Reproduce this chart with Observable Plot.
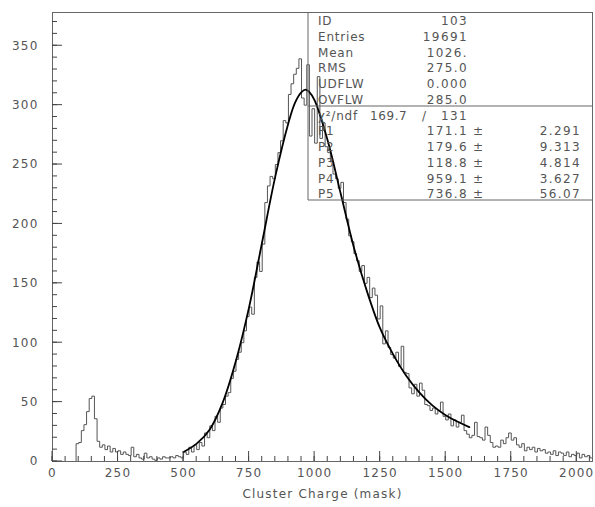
<!DOCTYPE html>
<html><head><meta charset="utf-8">
<script src="https://cdn.jsdelivr.net/npm/d3@7"></script>
<script src="https://cdn.jsdelivr.net/npm/@observablehq/plot@0.6"></script>
<style>
body{margin:0;background:#fff}
#chart svg text{font-family:"DejaVu Sans",sans-serif}
</style>
</head><body><div id="chart"></div>
<script>
// Histogram: bin width 10, bins starting at 0, 10, ... 2050
const binWidth = 10;
const counts = [
0,0,0,0,0,0,0,0,0,15,
16,26,31,42,53,55,36,17,12,14,
10,13,8,11,8,9,6,8,6,5,
12,4,6,3,2,7,3,4,2,1,
3,2,4,3,3,4,3,5,4,3,
8,6,12,8,14,10,16,13,24,20,
30,26,38,33,45,48,55,58,70,76,
86,92,100,110,122,130,124,155,168,160,
183,218,232,240,238,250,260,270,287,285,
309,318,326,331,339,306,300,334,274,297,
268,324,272,285,265,260,253,242,238,230,
235,218,204,190,185,175,169,160,165,150,
155,138,146,140,120,131,99,110,96,90,
87,92,80,97,75,74,62,57,65,55,
66,60,48,47,43,45,40,43,50,38,
35,40,30,35,29,33,39,26,23,20,
22,33,21,20,18,29,22,16,12,13,
12,18,15,20,24,18,20,14,12,15,
9,12,10,12,8,11,9,10,7,8,
6,9,5,8,7,5,8,4,6,5,
7,3,6,4,5,3
];
// Fit curve
const fitX = [500,550,600,650,700,750,800,850,900,925,950,965,980,1000,1050,1100,1150,1200,1250,1300,1350,1400,1450,1500,1550,1590];
const fitY = [8,15,27,50,85,130,185,240,285,302,311,313,311,304,270,225,180,143,112,90,72,58,47,39,33,29];

const xTicks = [0,250,500,750,1000,1250,1500,1750,2000];
const xMinorTicks = d3.range(0, 2060, 50);
const yTicks = [0,50,100,150,200,250,300,350];
const yMinorTicks = d3.range(0, 371, 10);
const xLabel = "Cluster Charge (mask)";

const statLabels = ["ID","Entries","Mean","RMS","UDFLW","OVFLW"];
const statValues = ["103","19691","1026.","275.0","0.000","285.0"];
const chiLabel = "χ²/ndf";
const chiValue = "169.7";
const ndfValue = "131";
const parLabels = ["P1","P2","P3","P4","P5"];
const parValues = ["171.1","179.6","118.8","959.1","736.8"];
const parErrors = ["2.291","9.313","4.814","3.627","56.07"];

const hist = counts.map((c, i) => ({x: i * binWidth, y: c}));
hist.push({x: counts.length * binWidth, y: counts[counts.length - 1]});
const fit = fitX.map((x, i) => ({x, y: fitY[i]}));

const ink = "#555";

const chart = Plot.plot({
  width: 595, height: 507,
  marginLeft: 52, marginRight: 3, marginTop: 12, marginBottom: 46,
  style: {fontSize: "12px", letterSpacing: "1.2px", color: ink, background: "#fff"},
  x: {domain: [0, counts.length * binWidth]},
  y: {domain: [0, 378]},
  marks: [
    Plot.line(hist, {x: "x", y: "y", curve: "step-after", stroke: "#555", strokeWidth: 1}),
    Plot.line(fit, {x: "x", y: "y", curve: "catmull-rom", stroke: "#000", strokeWidth: 1.8}),
    Plot.frame({stroke: "#666"}),
    Plot.axisX({ticks: xTicks, tickSize: 0, tickPadding: 7, tickFormat: d => String(d), label: null, fill: ink}),
    Plot.axisY({ticks: yTicks, tickSize: 0, tickPadding: 14, tickFormat: d => String(d), label: null, fill: ink}),
    Plot.text([xLabel], {text: d => d, frameAnchor: "bottom", dy: 36, fill: ink, fontSize: 12, style: {letterSpacing: "0.8px"}})
  ]
});
document.getElementById("chart").appendChild(chart);

const xsd = chart.scale("x"), ysd = chart.scale("y");
const xs = d3.scaleLinear(xsd.domain, xsd.range);
const ys = d3.scaleLinear(ysd.domain, ysd.range);
const left = Math.min(...xsd.range), right = Math.max(...xsd.range);
const bottomY = Math.max(...ysd.range), topY = Math.min(...ysd.range);
const svg = d3.select(chart);

// inward ticks (PAW style), positioned through the chart's scales
const tg = svg.append("g").attr("stroke", "#444").attr("stroke-width", 1).attr("fill", "none");
xMinorTicks.forEach(v => tg.append("line").attr("x1", xs(v)).attr("x2", xs(v)).attr("y1", bottomY).attr("y2", bottomY - 5));
xTicks.forEach(v => tg.append("line").attr("x1", xs(v)).attr("x2", xs(v)).attr("y1", bottomY).attr("y2", bottomY - 10));
yMinorTicks.forEach(v => tg.append("line").attr("x1", left).attr("x2", left + 5).attr("y1", ys(v)).attr("y2", ys(v)));
yTicks.forEach(v => tg.append("line").attr("x1", left).attr("x2", left + 10).attr("y1", ys(v)).attr("y2", ys(v)));

// Statistics box (PAW style) overlaid on the frame
const boxLeft = 308, divY = 106, boxBottom = 200;
const g = svg.append("g").attr("fill", ink).attr("font-size", 12).attr("text-anchor", "start");
g.append("path").attr("fill", "none").attr("stroke", "#666")
  .attr("d", `M${boxLeft},${topY}V${boxBottom}H${right}M${boxLeft},${divY}H${right}`);
const rowY = i => topY + 13 + i * 15.75;
const label = (x, y, s) => g.append("text").attr("x", x).attr("y", y).attr("letter-spacing", "0.8px").text(s);
const num = (x, y, s, anchor = "end", ls = "1.4px") => g.append("text").attr("x", x).attr("y", y)
  .attr("text-anchor", anchor).attr("letter-spacing", ls).text(s);
statLabels.forEach((l, i) => {
  label(318, rowY(i), l);
  num(468, rowY(i), statValues[i]);
});
label(318, rowY(6), chiLabel);
num(370, rowY(6), chiValue, "start", "0.6px");
num(422, rowY(6), "/", "start");
num(468, rowY(6), ndfValue);
parLabels.forEach((l, i) => {
  const y = rowY(7 + i);
  label(318, y, l);
  num(468, y, parValues[i]);
  num(473, y, "±", "start");
  num(581, y, parErrors[i]);
});
</script></body></html>
